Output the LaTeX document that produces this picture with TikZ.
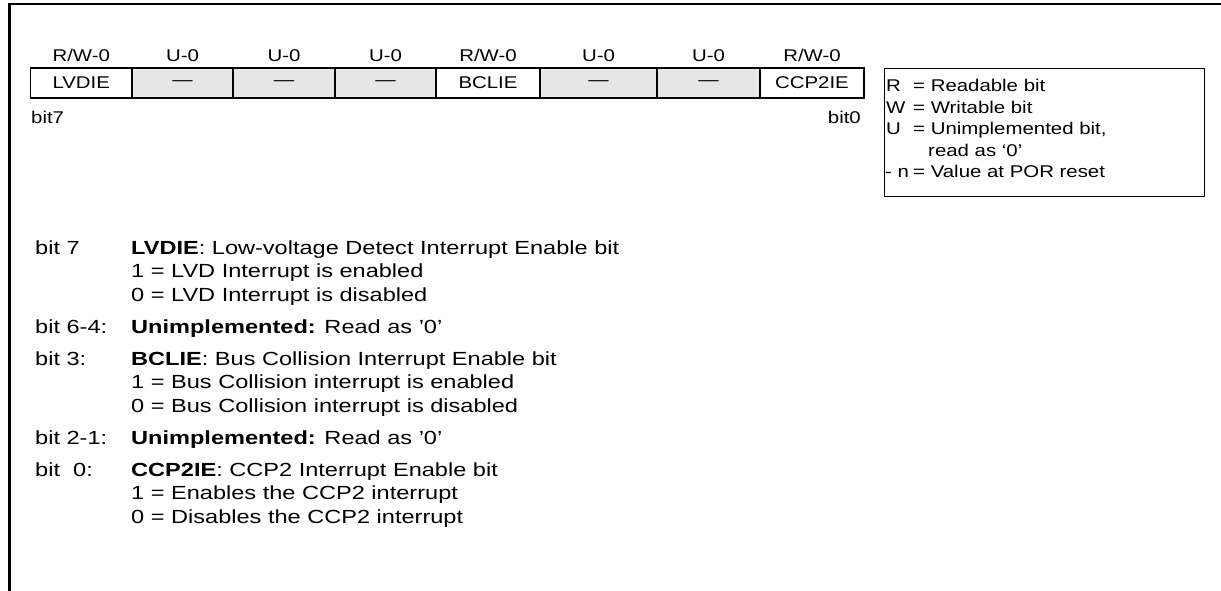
\documentclass[tikz,border=0pt]{standalone}
\usepackage{fontspec}
\setmainfont{Liberation Sans}[FakeStretch=1.2]
\newfontfamily\bodyfont{Liberation Sans}[FakeStretch=1.24]
\definecolor{cellgray}{RGB}{230,230,230}
\begin{document}
\begin{tikzpicture}[x=1pt,y=-1pt,
  regtxt/.style={font=\fontsize{17}{20}\selectfont, inner sep=0pt},
  cell/.style={draw, line width=1.4pt, minimum height=30pt, inner sep=0pt, font=\fontsize{17}{20}\selectfont},
  unimpl/.style={cell, fill=cellgray},
  legtxt/.style={font=\fontsize{17}{20}\selectfont, inner sep=0pt, anchor=base west},
  bodytxt/.style={font=\bodyfont\fontsize{19}{22}\selectfont, inner sep=0pt, anchor=base west}]
\useasboundingbox (0,0) rectangle (1221,591);
\coordinate (frTR) at (1221,4);
\coordinate (frTL) at (9.5,4);
\coordinate (frBL) at (9.5,591);
\draw[line width=2.2pt] (frTR) -- (frTL) -- (frBL);
% register cells
\node[cell,   minimum width=101.5pt] (c7) at (81.25,83) {LVDIE};
\node[unimpl, minimum width=101pt]   (c6) at (182.5,83) {—};
\node[unimpl, minimum width=102pt]   (c5) at (284,83) {—};
\node[unimpl, minimum width=101pt]   (c4) at (385.5,83) {—};
\node[cell,   minimum width=104pt]   (c3) at (488,83) {BCLIE};
\node[unimpl, minimum width=117pt]   (c2) at (598.5,83) {—};
\node[unimpl, minimum width=103pt]   (c1) at (708.5,83) {—};
\node[cell,   minimum width=104pt]   (c0) at (812,83) {CCP2IE};
% access labels
\foreach \c/\t in {c7/R\slash W-0, c6/U-0, c5/U-0, c4/U-0, c3/R\slash W-0, c2/U-0, c1/U-0, c0/R\slash W-0}
  \node[regtxt, anchor=base] (a\c) at ([yshift=6pt]\c.north) {\t};
\node[regtxt, anchor=base west] (b7) at (31,124) {bit7};
\node[regtxt, anchor=base east] (b0) at (861,124) {bit0};
% legend
\node[draw, line width=1.4pt, minimum width=320pt, minimum height=128pt, anchor=north west, inner sep=0pt] (leg) at (884,68) {};
\node[legtxt] (lR) at (886,92) {R};
\node[legtxt] (lRt) at (913,92) {= Readable bit};
\node[legtxt] (lW) at (886,113.5) {W};
\node[legtxt] (lWt) at (913,113.5) {= Writable bit};
\node[legtxt] (lU) at (886,135) {U};
\node[legtxt] (lUt) at (913,135) {= Unimplemented bit,};
\node[legtxt] (lUt2) at (928,156.5) {read as ‘0’};
\node[legtxt] (lN) at (885,178) {- n};
\node[legtxt] (lNt) at (913,178) {= Value at POR reset};
% descriptions
\node[bodytxt] (d7) at (35,254) {bit 7};
\node[bodytxt] (d7a) at (131,254) {\textbf{LVDIE}: Low-voltage Detect Interrupt Enable bit};
\node[bodytxt] (d7b) at (131,277.5) {1 = LVD Interrupt is enabled};
\node[bodytxt] (d7c) at (131,301) {0 = LVD Interrupt is disabled};
\node[bodytxt] (d6) at (35,333) {bit 6-4:};
\node[bodytxt] (d6a) at (131,333) {\textbf{Unimplemented:} Read as ’0’};
\node[bodytxt] (d3) at (35,365) {bit 3:};
\node[bodytxt] (d3a) at (131,365) {\textbf{BCLIE}: Bus Collision Interrupt Enable bit};
\node[bodytxt] (d3b) at (131,388.5) {1 = Bus Collision interrupt is enabled};
\node[bodytxt] (d3c) at (131,412) {0 = Bus Collision interrupt is disabled};
\node[bodytxt] (d2) at (35,444) {bit 2-1:};
\node[bodytxt] (d2a) at (131,444) {\textbf{Unimplemented:} Read as ’0’};
\node[bodytxt] (d0) at (35,476) {bit\ \ 0:};
\node[bodytxt] (d0a) at (131,476) {\textbf{CCP2IE}: CCP2 Interrupt Enable bit};
\node[bodytxt] (d0b) at (131,499.5) {1 = Enables the CCP2 interrupt};
\node[bodytxt] (d0c) at (131,523) {0 = Disables the CCP2 interrupt};
\end{tikzpicture}
\end{document}
